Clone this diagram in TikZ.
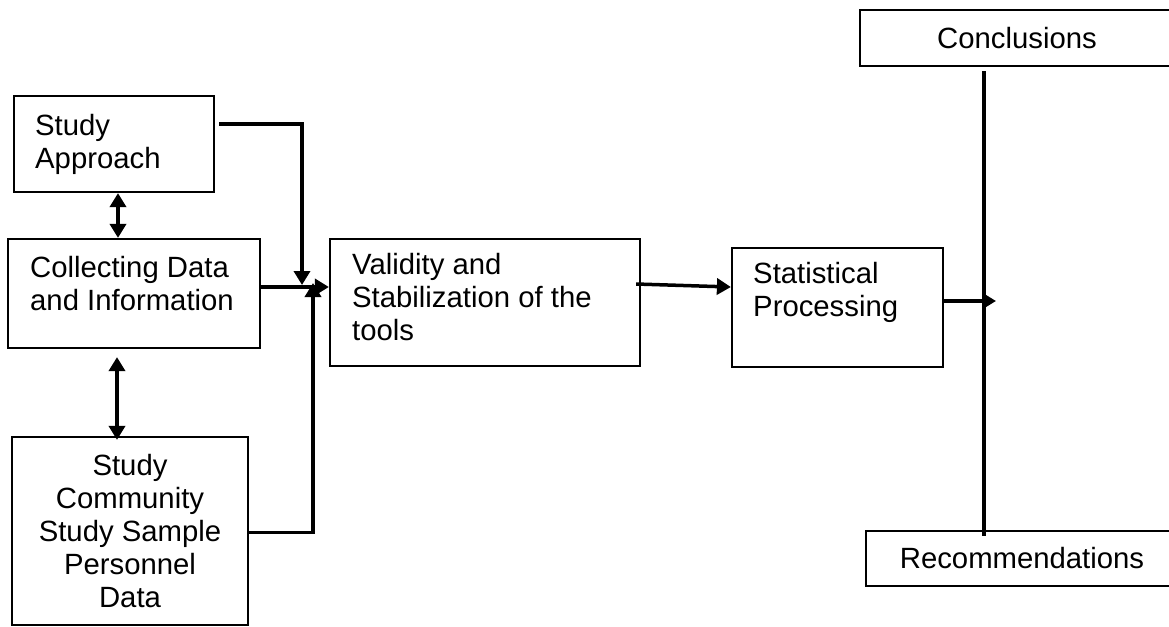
\documentclass[tikz,border=0pt]{standalone}
\usepackage{fontspec}
\setmainfont{Liberation Sans}
\usetikzlibrary{arrows.meta}
\begin{document}
\begin{tikzpicture}[x=1pt, y=-1pt,
  box/.style={draw=black, line width=2.2pt, rectangle, inner sep=0pt, align=center,
    font=\fontsize{29.3}{33}\selectfont},
  txt/.style={inner sep=0pt, align=left, font=\fontsize{29.3}{33}\selectfont},
  conn/.style={line width=3.5pt},
  tip/.style={-{Triangle[length=14pt, width=16pt]}},
  both/.style={{Triangle[length=14pt, width=16pt]}-{Triangle[length=14pt, width=16pt]}}]
  \path[use as bounding box, clip] (0,0) rectangle (1169,626);
  \fill[white] (0,0) rectangle (1169,626);

  % boxes
  \node[box, minimum width=200pt, minimum height=96pt] (sa) at (114,144) {};
  \node[box, minimum width=252pt, minimum height=109pt] (cd) at (134,293.5) {};
  \node[box, minimum width=236pt, minimum height=188pt] (bx) at (130,531) {Study\\Community\\Study Sample\\Personnel\\Data};
  \node[box, minimum width=310pt, minimum height=127pt] (vs) at (485,302.5) {};
  \node[box, minimum width=211pt, minimum height=119pt] (sp) at (837.5,307.5) {};
  \node[box, minimum width=314pt, minimum height=56pt] (co) at (1017,38) {Conclusions};
  \node[box, minimum width=312pt, minimum height=55pt] (re) at (1022,558.5) {Recommendations};

  % left-aligned texts (anchored at the baseline of their last line)
  \node[txt, anchor=base west] (satext) at (35,168) {Study\\Approach};
  \node[txt, anchor=base west] (cdtext) at (30,310) {Collecting Data\\and Information};
  \node[txt, anchor=base west] (vstext) at (352,340) {Validity and\\Stabilization of the\\tools};
  \node[txt, anchor=base west] (sptext) at (753,316) {Statistical\\Processing};

  % junction points in front of the validity box
  \coordinate (m1) at (302,285);
  \coordinate (m2) at (313,283);
  \coordinate (out) at (996,301);

  % connectors
  \draw[conn, tip] ([xshift=4pt, yshift=20pt]sa.east) -| (m1);
  \draw[conn, tip] ([yshift=6.5pt]cd.east) -- ([yshift=6.5pt]cd.east -| vs.west);
  \draw[conn, tip] ([yshift=-1.5pt]bx.east) -| (m2);
  \draw[conn, both] ([xshift=4pt]sa.south) -- ([xshift=4pt]sa.south |- cd.north);
  \draw[conn, both, shorten <=8pt] ([xshift=-17pt]cd.south) -- ([xshift=-17pt, yshift=-4pt]cd.south |- bx.north);
  \draw[conn, tip] ([xshift=-5pt, yshift=18.5pt]vs.east) -- ([yshift=20.5pt]sp.west);
  \draw[conn, tip] ([yshift=6.5pt]sp.east) -- (out);
  \draw[conn] ([xshift=-33pt, yshift=-4pt]co.south) -- ([xshift=-38pt, yshift=-6pt]re.north);
\end{tikzpicture}
\end{document}
